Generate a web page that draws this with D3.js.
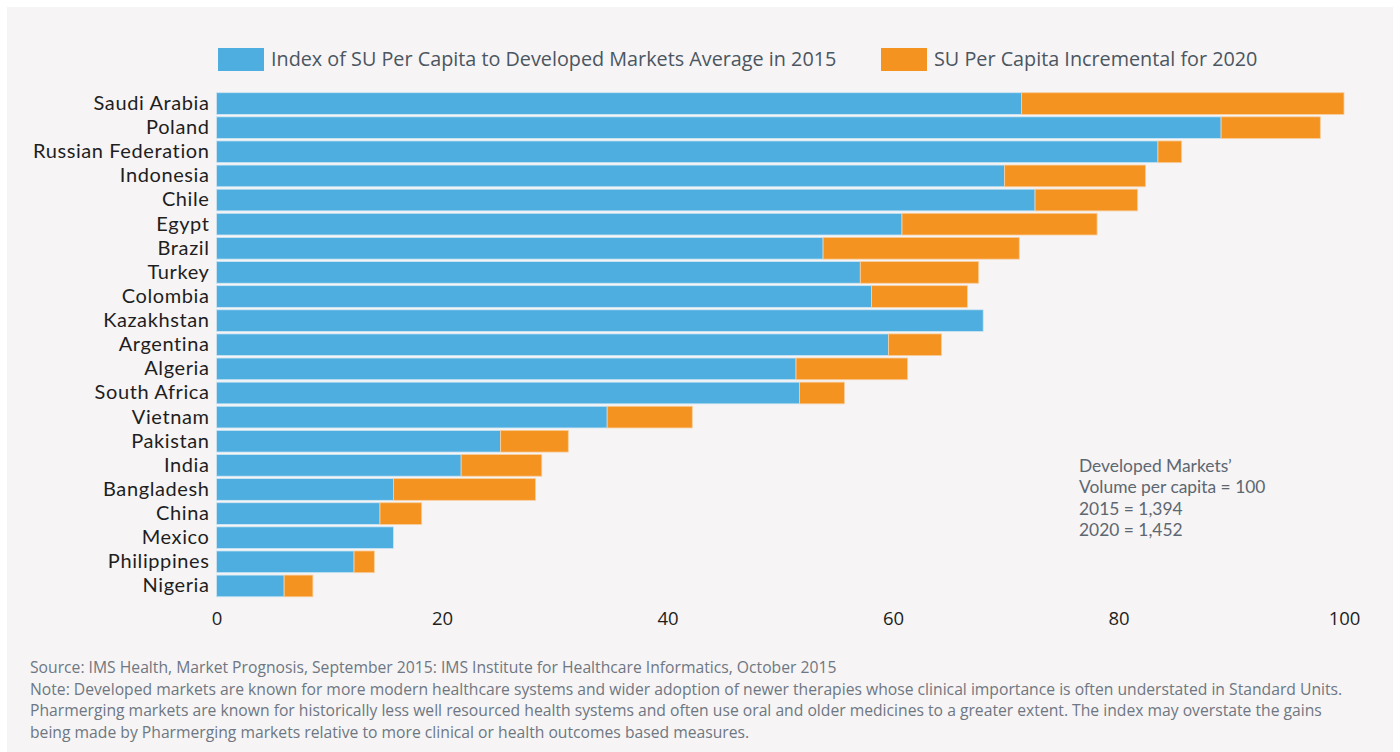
<!DOCTYPE html>
<html>
<head>
<meta charset="utf-8">
<script src="https://cdn.jsdelivr.net/npm/d3@7"></script>
<style>
  body { margin: 0; background: #fff; }
  svg { display: block; font-family: "Open Sans", Lato, sans-serif; }
</style>
</head>
<body>
<svg width="1400" height="752"></svg>
<script>
'use strict';

const countries = ["Saudi Arabia", "Poland", "Russian Federation", "Indonesia", "Chile", "Egypt",
    "Brazil", "Turkey", "Colombia", "Kazakhstan", "Argentina", "Algeria", "South Africa",
    "Vietnam", "Pakistan", "India", "Bangladesh", "China", "Mexico", "Philippines", "Nigeria"];
const index2015 = [71.4, 89.1, 83.5, 69.9, 72.6, 60.8, 53.8, 57.1, 58.1, 68.0, 59.6, 51.4, 51.7,
    34.65, 25.2, 21.7, 15.7, 14.5, 15.7, 12.2, 6.0];
const incr2020 = [28.6, 8.8, 2.1, 12.5, 9.1, 17.3, 17.4, 10.5, 8.5, 0, 4.7, 9.9, 4.0,
    7.55, 6.0, 7.15, 12.6, 3.7, 0, 1.8, 2.55];
const xTicks = [0, 20, 40, 60, 80, 100];
const seriesNames = ["Index of SU Per Capita to Developed Markets Average in 2015",
    "SU Per Capita Incremental for 2020"];
const noteLines = ["Developed Markets\u2019", "Volume per capita = 100", "2015 = 1,394", "2020 = 1,452"];
const footLines = [
    "Source: IMS Health, Market Prognosis,  September 2015: IMS Institute for Healthcare Informatics, October 2015",
    "Note: Developed markets are known for more modern healthcare systems and wider adoption of newer therapies whose clinical importance is often understated in Standard Units.",
    "Pharmerging markets are known for historically less well resourced health systems and often use oral and older medicines to a greater extent. The index may overstate the gains",
    "being made by Pharmerging markets relative to more clinical or health outcomes based measures."
];

const colors = ["#4eaee0", "#f59321"];
const font = "'Open Sans', Lato, sans-serif";
const lato = "Lato, 'Open Sans', sans-serif";

const svg = d3.select("svg");

svg.append("rect")
    .attr("x", 7).attr("y", 7)
    .attr("width", 1386).attr("height", 745)
    .attr("fill", "#f6f4f5");

const data = countries.map((c, i) => ({ name: c, base: index2015[i], inc: incr2020[i] }));

const x = d3.scaleLinear().domain([0, 100]).range([216.5, 1344]);
const y = d3.scaleBand().domain(countries).range([91.5, 598]).paddingInner(0.1).paddingOuter(0.05);

// legend
const legend = svg.append("g");
const legendPos = [218, 881];
seriesNames.forEach((s, i) => {
    const lg = legend.append("g").attr("transform", `translate(${legendPos[i]},48)`);
    lg.append("rect").attr("width", 46).attr("height", 23).attr("fill", colors[i]);
    lg.append("text").attr("x", 53).attr("y", 18)
        .attr("font-size", 19.8).attr("fill", "#4b5661").text(s);
});

// bars
const rows = svg.append("g").selectAll("g").data(data).join("g");

rows.append("rect")
    .attr("x", x(0))
    .attr("y", d => y(d.name))
    .attr("width", d => x(d.base) - x(0))
    .attr("height", y.bandwidth())
    .attr("fill", colors[0])
    .attr("stroke", "#cfe6f3").attr("stroke-width", 0.8);

rows.filter(d => d.inc > 0).append("rect")
    .attr("x", d => x(d.base))
    .attr("y", d => y(d.name))
    .attr("width", d => x(d.base + d.inc) - x(d.base))
    .attr("height", y.bandwidth())
    .attr("fill", colors[1])
    .attr("stroke", "#f7cfa0").attr("stroke-width", 0.8);

// category labels
const yAxis = d3.axisLeft(y).tickSize(0).tickPadding(7);
const gy = svg.append("g").attr("transform", `translate(${x(0)},0)`).call(yAxis);
gy.select(".domain").remove();
gy.selectAll("text").attr("font-size", 20).attr("fill", "#1e1e1e")
    .style("font-family", lato).style("letter-spacing", "0.6px");

// x axis labels
const xAxis = d3.axisBottom(x).tickValues(xTicks).tickSize(0).tickPadding(0);
const gx = svg.append("g").attr("transform", "translate(0,612)").call(xAxis);
gx.select(".domain").remove();
gx.selectAll("text").attr("font-size", 18.5).attr("fill", "#1e1e1e")
    .style("font-family", font);

// annotation
svg.append("g").selectAll("text").data(noteLines).join("text")
    .attr("x", 1079)
    .attr("y", (d, i) => 472 + i * 21.3)
    .attr("font-size", 17.4).attr("fill", "#5d6771")
    .style("font-family", lato)
    .text(d => d);

// footnote
svg.append("g").selectAll("text").data(footLines).join("text")
    .attr("x", 30)
    .attr("y", (d, i) => 673 + i * 21.6)
    .attr("font-size", 15.7).attr("fill", "#6e7782")
    .text(d => d);
</script>
</body>
</html>
